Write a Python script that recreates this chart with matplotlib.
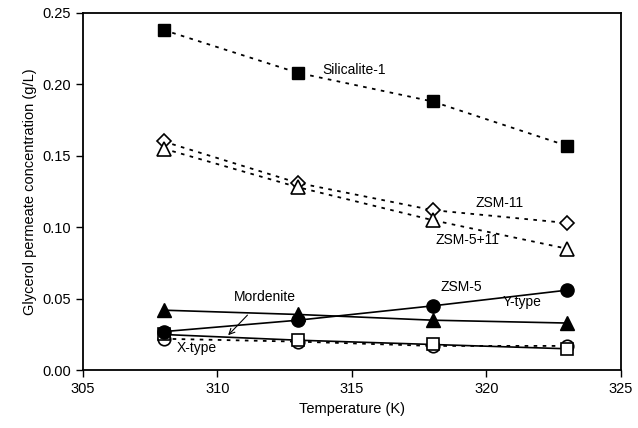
#!/usr/bin/env python3

import numpy
import matplotlib
matplotlib.use("Agg")
import matplotlib.pyplot as plt

plt.rcParams['font.family'] = ['Liberation Sans', 'DejaVu Sans']

### Data
temps = [308, 313, 318, 323]
silicalite = [0.238, 0.208, 0.188, 0.157]
zsm11 = [0.160, 0.131, 0.112, 0.103]
zsm5_11 = [0.155, 0.128, 0.105, 0.085]
zsm5 = [0.027, 0.035, 0.045, 0.056]
ytype = [0.042, 0.039, 0.035, 0.033]
mordenite = [0.025, 0.021, 0.018, 0.015]
xtype = [0.022, 0.020, 0.017, 0.017]

dots = (0, (2, 3))

fig = plt.figure(figsize=(6.38, 4.28), dpi=100)
ax = fig.add_axes([0.130, 0.135, 0.843, 0.835])

ax.plot(temps, silicalite, linestyle=dots, color='black', lw=1.3,
        marker='s', ms=9, mfc='black', mec='black')
ax.plot(temps, zsm11, linestyle=dots, color='black', lw=1.3,
        marker='D', ms=7.5, mfc='white', mec='black', mew=1.2)
ax.plot(temps, zsm5_11, linestyle=dots, color='black', lw=1.3,
        marker='^', ms=10, mfc='white', mec='black', mew=1.2)
ax.plot(temps, xtype, linestyle=dots, color='black', lw=1.3,
        marker='o', ms=9, mfc='white', mec='black', mew=1.2)
ax.plot(temps, mordenite, linestyle='-', color='black', lw=1.2,
        marker='s', ms=9, mfc='white', mec='black', mew=1.2)
ax.plot(temps, ytype, linestyle='-', color='black', lw=1.2,
        marker='^', ms=10, mfc='black', mec='black')
ax.plot(temps, zsm5, linestyle='-', color='black', lw=1.2,
        marker='o', ms=9.5, mfc='black', mec='black')

# labels on the curves
fs = 10.5
ax.text(313.9, 0.210, "Silicalite-1", fontsize=10, va='center')
ax.text(319.6, 0.117, "ZSM-11", fontsize=10, va='center')
ax.text(318.1, 0.091, "ZSM-5+11", fontsize=10, va='center')
ax.text(318.3, 0.058, "ZSM-5", fontsize=10, va='center')
ax.text(320.6, 0.0475, "Y-type", fontsize=10, va='center')
ax.text(308.5, 0.0155, "X-type", fontsize=10, va='center')
ax.annotate("Mordenite", xy=(310.4, 0.0245), xytext=(310.6, 0.051),
            fontsize=10, va='center',
            arrowprops=dict(arrowstyle='->', color='black', lw=0.8,
                            shrinkA=8, shrinkB=0))

ax.set_xlim(305, 325)
ax.set_ylim(0, 0.25)
ax.set_xticks(numpy.arange(305, 326, 5))
ax.set_yticks(numpy.arange(0, 0.251, 0.05))
ax.set_yticklabels(["%.2f" % v for v in numpy.arange(0, 0.251, 0.05)])

ax.set_xlabel("Temperature (K)", fontsize=fs)
ax.set_ylabel("Glycerol permeate concentration (g/L)", fontsize=fs)

ax.tick_params(direction='out', length=5, width=1, labelsize=fs,
               top=False, right=False)
for sp in ax.spines.values():
    sp.set_linewidth(1.3)

fig.savefig("out.png", dpi=100)
